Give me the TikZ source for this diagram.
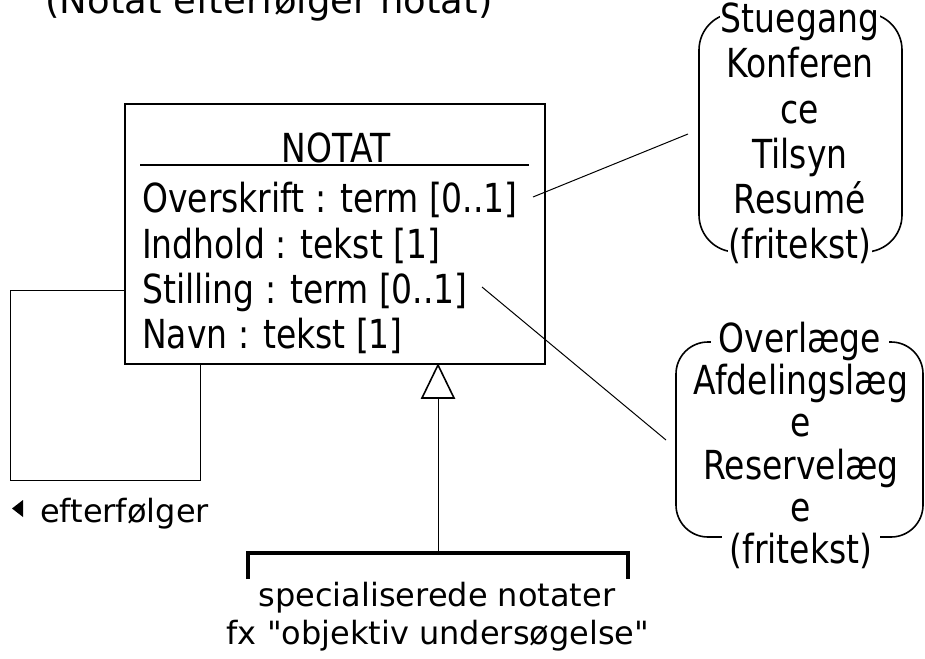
\documentclass[tikz,border=0pt]{standalone}
\usepackage{fontspec}
\setmainfont[Ligatures=TeXOff]{DejaVu Sans}
\newfontfamily\narrowfont[FakeStretch=0.825]{DejaVu Sans}
\begin{document}
\begin{tikzpicture}[x=1pt,y=-1pt,
  big/.style={inner sep=0pt, font=\narrowfont\fontsize{40}{45}\selectfont},
  attr/.style={big, anchor=base west},
  valtxt/.style={big, anchor=base},
  valedge/.style={big, anchor=base, fill=white, inner xsep=1pt, inner ysep=1pt},
  small/.style={inner sep=0pt, anchor=base, font=\fontsize{32}{37}\selectfont},
  thinline/.style={line width=1pt},
  classbox/.style={draw, line width=2pt, inner sep=0pt},
  valbox/.style={draw, line width=1.6pt, inner sep=0pt}]
\useasboundingbox (0,0) rectangle (925,658);

% title
\node[anchor=base, inner sep=0pt, font=\fontsize{37}{42}\selectfont] (title) at (269,14) {(Notat efterfølger notat)};

% class box
\node[classbox, minimum width=420pt, minimum height=260pt] (notat) at (335,234) {};
\node[big, anchor=base] (cname) at (336,162) {NOTAT};
\draw[line width=1.3pt] (140,165) -- (529,165);
\node[attr] (a1) at (142,212) {Overskrift : term [0..1]};
\node[attr] (a2) at (142,258) {Indhold : tekst [1]};
\node[attr] (a3) at (142,303) {Stilling : term [0..1]};
\node[attr] (a4) at (142,348) {Navn : tekst [1]};

% self association
\coordinate (loopc) at (10,480);
\draw[thinline] ([yshift=-56pt]notat.west) -| (loopc) -| ([xshift=-135pt]notat.south);
\fill (23,500) -- (23,517) -- (12,508.5) -- cycle;
\node[small, anchor=base west] (eft) at (40,522) {efterfølger};

% value box 1
\node[valbox, rounded corners=37pt, minimum width=203pt, minimum height=239pt] (vb1) at (800.5,132.5) {};
\node[valedge] (v11) at (800,33) {Stuegang};
\node[valtxt] (v12) at (800,78) {Konferen};
\node[valtxt] (v13) at (800,123) {ce};
\node[valtxt] (v14) at (800,168) {Tilsyn};
\node[valtxt] (v15) at (800,213) {Resumé};
\node[valedge] (v16) at (800,258) {(fritekst)};

% value box 2
\node[valbox, rounded corners=32pt, minimum width=247pt, minimum height=195pt] (vb2) at (799.5,439.5) {};
\node[valedge, inner xsep=8pt] (v21) at (800,352) {Overlæge};
\node[valtxt] (v22) at (801,394) {Afdelingslæg};
\node[valtxt] (v23) at (801,436) {e};
\node[valtxt] (v24) at (801,479) {Reservelæg};
\node[valtxt] (v25) at (801,521) {e};
\node[valedge, inner xsep=8pt] (v26) at (801,563) {(fritekst)};

% value connectors
\coordinate (c1s) at (533,197);
\coordinate (c1e) at (688,134);
\draw[thinline] (c1s) -- (c1e);
\coordinate (c2s) at (482,287);
\coordinate (c2e) at (666,440);
\draw[thinline] (c2s) -- (c2e);

% specialisation
\coordinate (brk) at (438,553);
\coordinate (gtip) at ([xshift=103pt]notat.south);
\coordinate (gbase) at (438,398);
\draw[line width=4pt] (248,579) -- (248,553) -- (628,553) -- (628,579);
\draw[thinline] (brk) -- (gbase);
\draw[line width=1.6pt, fill=white, line join=miter] (gtip) -- (454,398) -- (422,398) -- cycle;
\node[small] (spec1) at (437,606) {specialiserede notater};
\node[small] (spec2) at (438,644) {fx "objektiv undersøgelse"};
\end{tikzpicture}
\end{document}
